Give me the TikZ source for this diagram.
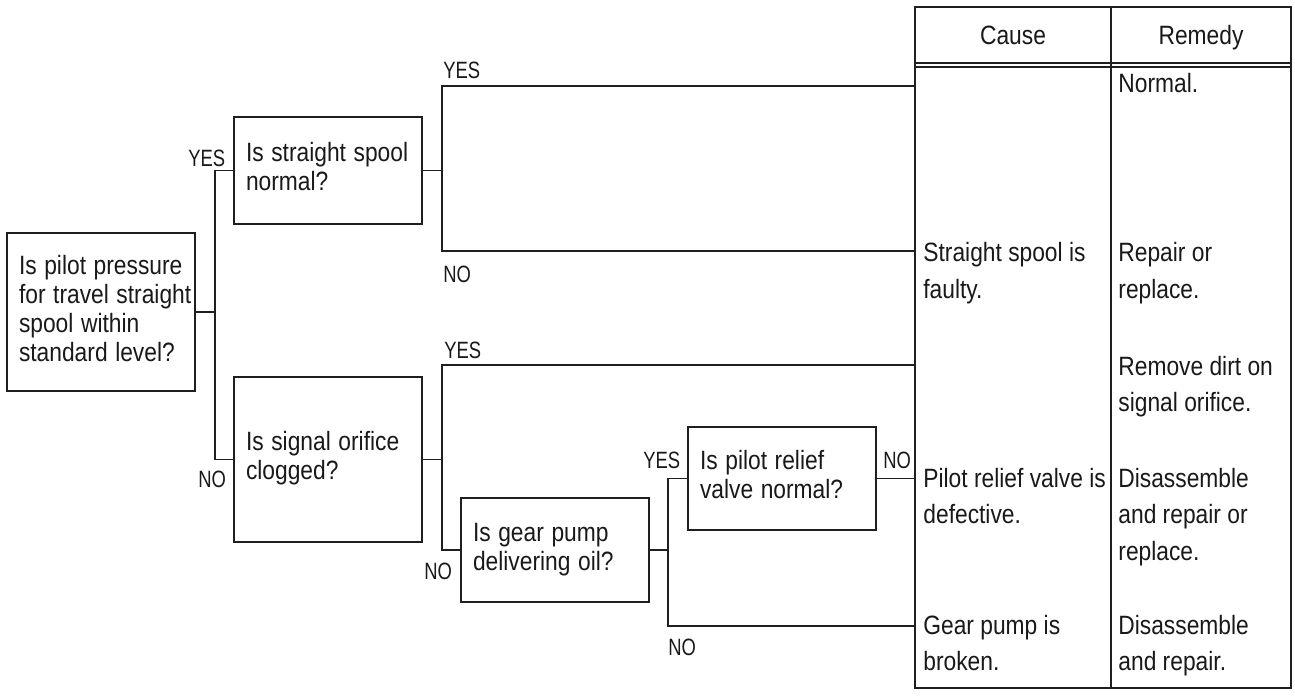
\documentclass[tikz,border=0pt]{standalone}
\usepackage{graphicx}
\usepackage{fontspec}
\setmainfont{Liberation Sans}
\newcommand{\sqz}[1]{\scalebox{0.86}[1]{\begin{tabular}[t]{@{}l@{}}#1\end{tabular}}}
\newcommand{\sqy}[1]{\scalebox{0.78}[1]{#1}}
\begin{document}
\begin{tikzpicture}[x=0.5pt,y=-0.5pt,
  ink/.style={draw=black!88},
  qbox/.style={ink,line width=1pt,rectangle,inner xsep=6pt,inner ysep=0pt,
    text width=82pt,align=left,minimum width=94pt,text=black!90,
    font=\fontsize{13.25pt}{14.5pt}\selectfont},
  conn/.style={ink,line width=0.7pt},
  yn/.style={inner sep=0pt,anchor=base west,text=black!90,
    font=\fontsize{11.8pt}{12pt}\selectfont},
  cell/.style={inner sep=0pt,anchor=base west,text=black!90,
    font=\fontsize{13.25pt}{18.3pt}\selectfont},
  head/.style={inner sep=0pt,anchor=base,text=black!90,
    font=\fontsize{13.25pt}{14pt}\selectfont}]
\useasboundingbox (0,0) rectangle (1295,700);

% table
\node[ink,line width=1.1pt,rectangle,minimum width=188pt,minimum height=340.5pt,inner sep=0pt] (tbl) at (1103,347.5) {};
\draw[conn] (tbl.west |- 0,63) -- (tbl.east |- 0,63);
\draw[conn] (tbl.west |- 0,67) -- (tbl.east |- 0,67);
\draw[conn] (1111,0 |- tbl.north) -- (1111,0 |- tbl.south);
\node[head] (hc) at (1013,45) {\sqz{Cause}};
\node[head] (hr) at (1201,45) {\sqz{Remedy}};

% questions
\node[qbox,minimum height=79pt] (q1) at (101,312) {\sqz{Is pilot pressure\\for travel straight\\spool within\\standard level?}};
\node[qbox,minimum height=53.5pt] (q2) at (328,170.5) {\sqz{Is straight spool\\normal?}};
\node[qbox,minimum height=82.5pt] (q3) at (328,459.5) {\sqz{Is signal orifice\\clogged?}};
\node[qbox,minimum height=52pt] (q4) at (555,550) {\sqz{Is gear pump\\delivering oil?}};
\node[qbox,minimum height=51.5pt] (q5) at (782,478.5) {\sqz{Is pilot relief\\valve normal?}};

% junctions
\coordinate (j1) at (215,312);
\coordinate (j2) at (442,170.5);
\coordinate (j3) at (442,459.5);
\coordinate (j4) at (668,550);
\coordinate (yA) at (0,86);
\coordinate (yB) at (0,251);
\coordinate (yC) at (0,365);
\coordinate (yD) at (0,626);

% connectors
\draw[conn] (q1.east) -- (j1);
\draw[conn] (q2.west) -| (j1) |- (q3.west);
\draw[conn] (q2.east) -- (j2);
\draw[conn] (tbl.west |- yA) -| (j2) |- (tbl.west |- yB);
\draw[conn] (q3.east) -- (j3);
\draw[conn] (tbl.west |- yC) -| (j3) |- (q4.west);
\draw[conn] (q4.east) -- (j4);
\draw[conn] (q5.west) -| (j4) |- (tbl.west |- yD);
\draw[conn] (q5.east) -- (tbl.west |- q5.east);

% labels
\node[yn] (l1) at (188,167) {\sqy{YES}};
\node[yn] (l2) at (198,487) {\sqy{NO}};
\node[yn] (l3) at (443,79) {\sqy{YES}};
\node[yn] (l4) at (443,283) {\sqy{NO}};
\node[yn] (l5) at (444,358) {\sqy{YES}};
\node[yn] (l6) at (424,579) {\sqy{NO}};
\node[yn] (l7) at (643,468) {\sqy{YES}};
\node[yn] (l8) at (883,468) {\sqy{NO}};
\node[yn] (l9) at (668,655) {\sqy{NO}};

% table cells
\node[cell] (r1) at (1118,93) {\sqz{Normal.}};
\node[cell] (c2) at (923,262) {\sqz{Straight spool is\\faulty.}};
\node[cell] (r2) at (1118,262) {\sqz{Repair or\\replace.}};
\node[cell] (r3) at (1118,375) {\sqz{Remove dirt on\\signal orifice.}};
\node[cell] (c4) at (923,487) {\sqz{Pilot relief valve is\\defective.}};
\node[cell] (r4) at (1118,487) {\sqz{Disassemble\\and repair or\\replace.}};
\node[cell] (c5) at (923,634) {\sqz{Gear pump is\\broken.}};
\node[cell] (r5) at (1118,634) {\sqz{Disassemble\\and repair.}};
\end{tikzpicture}
\end{document}
